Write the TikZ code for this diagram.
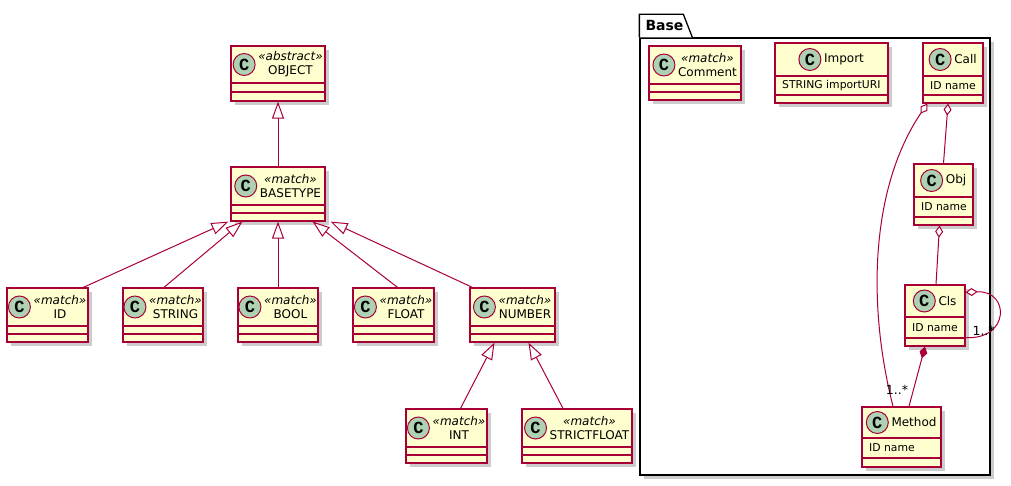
\documentclass[tikz,border=0pt]{standalone}
\usepackage{fontspec}
\setmainfont{DejaVu Sans}
\newfontfamily\iconfont{Liberation Mono}
\usetikzlibrary{arrows.meta,shadows,calc}

\definecolor{umlred}{HTML}{A80036}
\definecolor{umlfill}{HTML}{FEFECE}
\definecolor{iconfill}{HTML}{ADD1B2}

\tikzset{
  classbox/.style={draw=umlred, fill=umlfill, line width=1.25pt, inner sep=0pt,
    drop shadow={shadow xshift=4pt, shadow yshift=-4pt, fill=black, opacity=0.2}},
  compline/.style={draw=umlred, line width=1.25pt},
  titletext/.style={inner sep=0pt, align=center, font=\fontsize{12}{14}\selectfont},
  attrtext/.style={inner sep=0pt, anchor=west, font=\fontsize{10.8}{12}\selectfont},
  cicon/.style={circle, draw=umlred, fill=iconfill, line width=1pt, minimum size=22pt,
    inner sep=0pt, font=\iconfont\bfseries\fontsize{17}{17}\selectfont},
  pkgbox/.style={draw=black, fill=white, line width=1.3pt, inner sep=0pt,
    drop shadow={shadow xshift=4pt, shadow yshift=-4pt, fill=black, opacity=0.2}},
  pkgtab/.style={draw=black, fill=white, line width=1.3pt, line join=miter},
  link/.style={draw=umlred, line width=1pt},
  ext/.style={link, -{Triangle[fill=white, length=17pt, width=12pt]}},
  agg/.style={link, {Diamond[fill=white, length=12pt, width=8pt]}-},
  comp/.style={link, {Diamond[fill=umlred, length=12pt, width=8pt]}-},
  mult/.style={inner sep=0pt, font=\fontsize{12.5}{14}\selectfont},
}

% \umlclass{name}{left}{top}{right}{bottom}{header line}{field line}{title}
\newcommand{\umlclass}[8]{%
  \pgfmathsetmacro{\kw}{#4-#2}%
  \pgfmathsetmacro{\kh}{#5-#3}%
  \node[classbox, minimum width=\kw pt, minimum height=\kh pt] (#1) at ({(#2+#4)/2},{(#3+#5)/2}) {};
  \draw[compline] (#2,#6) -- (#4,#6) (#2,#7) -- (#4,#7);
  \node[titletext] (#1-t) at ({(#2+#4)/2+12.5},{(#3+#6)/2}) {#8};
  \node[cicon] (#1-c) at ($(#1-t.west)+(-14,0)$) {C};
}

\begin{document}
\begin{tikzpicture}[x=1pt, y=-1pt]
\useasboundingbox (0,0) rectangle (1011,486);

% package Base
\node[pkgbox, minimum width=350pt, minimum height=437pt] (base) at (815,256.5) {};
\draw[pkgtab] (base.north west) -- ++(0,-23) -- ++(44,0) -- ++(9,23);
\node[inner sep=0pt, font=\bfseries\fontsize{14}{16}\selectfont] (base-t) at (664.5,26) {Base};

% type hierarchy
\umlclass{object}{231}{46}{325}{101}{83}{92}{\textit{«abstract»}\\OBJECT}
\umlclass{basetype}{231}{167}{325}{221}{205}{213}{\textit{«match»}\\BASETYPE}
\umlclass{id}{7}{288}{88}{342}{326}{334}{\textit{«match»}\\ID}
\umlclass{string}{123}{288}{203}{342}{326}{334}{\textit{«match»}\\STRING}
\umlclass{bool}{238}{288}{318}{342}{326}{334}{\textit{«match»}\\BOOL}
\umlclass{float}{353}{288}{434}{342}{326}{334}{\textit{«match»}\\FLOAT}
\umlclass{number}{470}{288}{555}{342}{326}{334}{\textit{«match»}\\NUMBER}
\umlclass{int}{406}{409}{487}{463}{447}{455}{\textit{«match»}\\INT}
\umlclass{strictfloat}{522}{409}{632}{463}{447}{455}{\textit{«match»}\\STRICTFLOAT}

% classes of the Base package
\umlclass{comment}{649}{46}{741}{100}{84}{92}{\textit{«match»}\\Comment}
\umlclass{import}{775}{43}{888}{103}{76}{95}{Import}
\umlclass{call}{923}{43}{983}{103}{76}{95}{Call}
\umlclass{obj}{914}{164}{973}{225}{197}{217}{Obj}
\umlclass{cls}{905}{285}{965}{346}{317}{338}{Cls}
\umlclass{method}{862}{407}{941}{467}{438}{458}{Method}

\node[attrtext] (import-a) at (782,85.5) {STRING importURI};
\node[attrtext] (call-a) at (930,85.5) {ID name};
\node[attrtext] (obj-a) at (921,207) {ID name};
\node[attrtext] (cls-a) at (912,327.5) {ID name};
\node[attrtext] (method-a) at (869,448) {ID name};

% generalisations
\draw[ext] (basetype.north) -- (object.south);
\draw[ext] ($(id.north west)+(77,0)$) -- ($(basetype.south west)+(-2,0)$);
\draw[ext] ($(string.north)+(1,0)$) -- ($(basetype.south west)+(12,0)$);
\draw[ext] (bool.north) -- (basetype.south);
\draw[ext] ($(float.north)+(4,0)$) -- ($(basetype.south east)+(-13,0)$);
\draw[ext] ($(number.north west)+(3,0)$) -- ($(basetype.south east)+(5,0)$);
\draw[ext] ($(int.north)+(14,0)$) -- ($(number.south)+(-18,0)$);
\draw[ext] ($(strictfloat.north)+(-14,0)$) -- ($(number.south)+(16,0)$);

% associations in Base
\draw[agg] ($(call.south)+(-5,0)$) -- (obj.north);
\draw[agg] ($(call.south west)+(5,0)$) .. controls (872,185) and (866,300) .. ($(method.north)+(-8.5,0)$);
\draw[agg] ($(obj.south)+(-4,0)$) -- ($(cls.north)+(1,0)$);
\draw[comp] ($(cls.south)+(-10,0)$) -- ($(method.north)+(7.5,0)$);
\draw[agg] ($(cls.north east)+(0,8)$) .. controls (1010,290) and (1010,340) .. ($(cls.south east)+(0,-9)$);

\node[mult] (m1) at ($(method.north)+(-4.5,-17)$) {1..*};
\node[mult] (m2) at ($(cls.east)+(18,15.5)$) {1..*};
\end{tikzpicture}
\end{document}
